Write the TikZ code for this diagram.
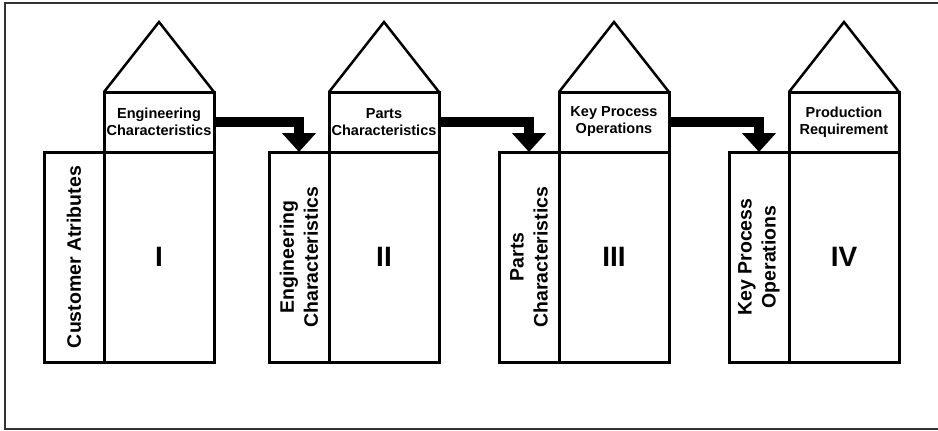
\documentclass[tikz,border=0pt]{standalone}
\usepackage{fontspec}
\setmainfont{Liberation Sans}
\usetikzlibrary{arrows.meta,positioning}

\tikzset{
    box/.style={rectangle,draw,line width=3pt,inner sep=0pt,outer sep=0pt},
    sidebox/.style={box,minimum width=60pt,minimum height=210pt},
    mainbox/.style={box,minimum width=110pt,minimum height=210pt},
    headbox/.style={box,minimum width=110pt,minimum height=60pt},
    headtext/.style={align=center,font=\fontsize{14.5}{17}\selectfont\bfseries},
    sidetext/.style={rotate=90,align=center,font=\fontsize{19.5}{24}\selectfont\bfseries},
    numtext/.style={font=\fontsize{28}{34}\selectfont\bfseries},
    roof/.style={draw,line width=2.5pt,line join=miter},
    flow/.style={line width=10pt,-{Triangle[width=33pt,length=19pt]}}
}

\begin{document}
\begin{tikzpicture}[x=1pt,y=-1pt]
    \useasboundingbox (0,0) rectangle (938,431);

    % Frame
    \draw[line width=1.2pt,black!80] (938,3) -- (5,3) -- (5,429) -- (938,429);

    % House I
    \node[sidebox] (side1) at (74,257) {};
    \node[sidetext] (sidetxt1) at (side1) {Customer Atributes};
    \node[mainbox] (main1) at (159,257) {};
    \node[numtext] (num1) at (main1) {I};
    \node[headbox] (hdr1) at (159,122) {};
    \node[headtext] (hdrtxt1) at (hdr1) {Engineering\\Characteristics};
    \coordinate (top1) at (159,22);
    \draw[roof] (hdr1.north west) -- (top1) -- (hdr1.north east);

    % House II
    \node[sidebox] (side2) at (299,257) {};
    \node[sidetext] (sidetxt2) at (side2) {Engineering\\Characteristics};
    \node[mainbox] (main2) at (384,257) {};
    \node[numtext] (num2) at (main2) {II};
    \node[headbox] (hdr2) at (384,122) {};
    \node[headtext] (hdrtxt2) at (hdr2) {Parts\\Characteristics};
    \coordinate (top2) at (384,22);
    \draw[roof] (hdr2.north west) -- (top2) -- (hdr2.north east);

    % House III
    \node[sidebox] (side3) at (529,257) {};
    \node[sidetext] (sidetxt3) at (side3) {Parts\\Characteristics};
    \node[mainbox] (main3) at (614,257) {};
    \node[numtext] (num3) at (main3) {III};
    \node[headbox] (hdr3) at (614,122) {};
    \node[headtext] (hdrtxt3) at (hdr3) {Key Process\\Operations};
    \coordinate (top3) at (614,22);
    \draw[roof] (hdr3.north west) -- (top3) -- (hdr3.north east);

    % House IV
    \node[sidebox] (side4) at (759,257) {};
    \node[sidetext] (sidetxt4) at (side4) {Key Process\\Operations};
    \node[mainbox] (main4) at (844,257) {};
    \node[numtext] (num4) at (main4) {IV};
    \node[headbox] (hdr4) at (844,122) {};
    \node[headtext] (hdrtxt4) at (hdr4) {Production\\Requirement};
    \coordinate (top4) at (844,22);
    \draw[roof] (hdr4.north west) -- (top4) -- (hdr4.north east);

    % Hand-over arrows
    \draw[flow] (hdr1.east) -| (side2.north);
    \draw[flow] (hdr2.east) -| (side3.north);
    \draw[flow] (hdr3.east) -| (side4.north);
\end{tikzpicture}
\end{document}
